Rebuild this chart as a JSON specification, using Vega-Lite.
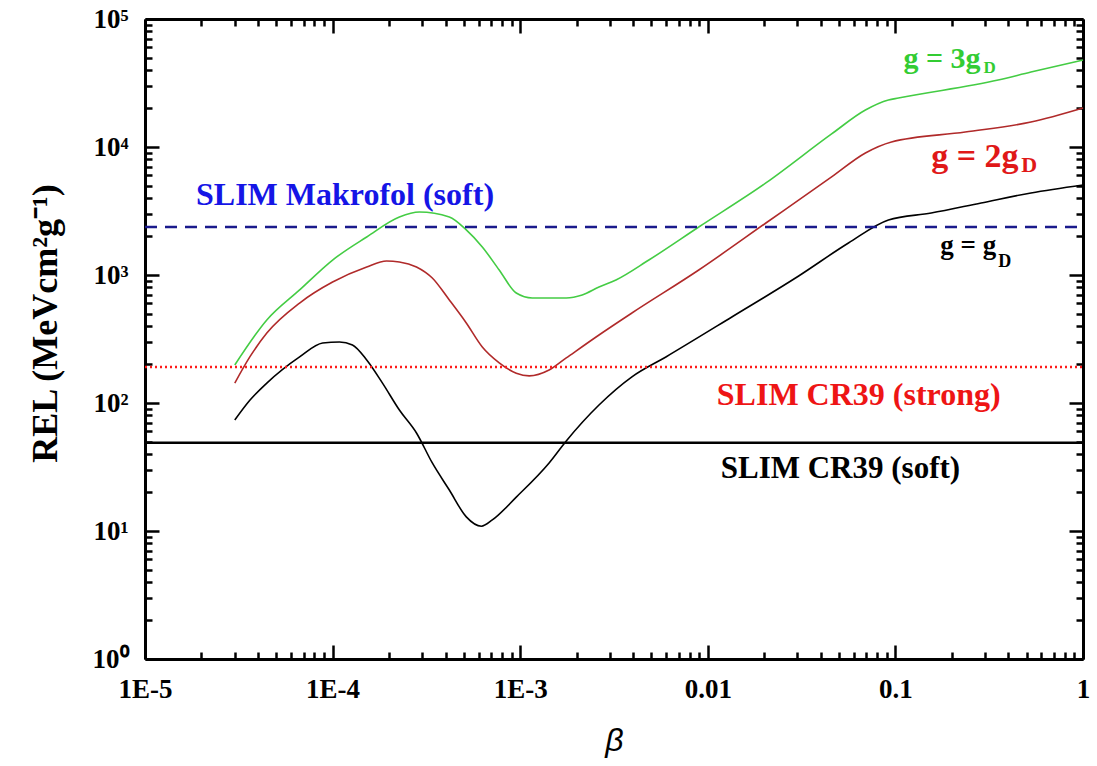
{
  "$schema": "https://vega.github.io/schema/vega-lite/v6.json",
  "width": 938,
  "height": 640,
  "autosize": "none",
  "padding": {"left": 145, "top": 19, "right": 14, "bottom": 107},
  "background": "white",
  "config": {"view": {"stroke": null}},
  "datasets": {
    "curves": [
      {"series": "3gD", "beta": 3.01e-5, "rel": 198},
      {"series": "3gD", "beta": 4.46e-5, "rel": 445},
      {"series": "3gD", "beta": 6.67e-5, "rel": 764},
      {"series": "3gD", "beta": 1.0e-4, "rel": 1309},
      {"series": "3gD", "beta": 1.52e-4, "rel": 1982},
      {"series": "3gD", "beta": 2.27e-4, "rel": 2838},
      {"series": "3gD", "beta": 2.90e-4, "rel": 3105},
      {"series": "3gD", "beta": 4.19e-4, "rel": 2838},
      {"series": "3gD", "beta": 5.16e-4, "rel": 2249},
      {"series": "3gD", "beta": 6.28e-4, "rel": 1656},
      {"series": "3gD", "beta": 7.73e-4, "rel": 1094},
      {"series": "3gD", "beta": 9.53e-4, "rel": 723},
      {"series": "3gD", "beta": 1.16e-3, "rel": 661},
      {"series": "3gD", "beta": 1.76e-3, "rel": 661},
      {"series": "3gD", "beta": 2.14e-3, "rel": 698},
      {"series": "3gD", "beta": 2.63e-3, "rel": 805},
      {"series": "3gD", "beta": 3.24e-3, "rel": 914},
      {"series": "3gD", "beta": 4.85e-3, "rel": 1309},
      {"series": "3gD", "beta": 8.95e-3, "rel": 2371},
      {"series": "3gD", "beta": 0.0204, "rel": 5236},
      {"series": "3gD", "beta": 0.0457, "rel": 12650},
      {"series": "3gD", "beta": 0.0692, "rel": 19450},
      {"series": "3gD", "beta": 0.0918, "rel": 23280},
      {"series": "3gD", "beta": 0.1038, "rel": 24150},
      {"series": "3gD", "beta": 0.353, "rel": 33340},
      {"series": "3gD", "beta": 0.528, "rel": 38550},
      {"series": "3gD", "beta": 1.0, "rel": 47860},
      {"series": "2gD", "beta": 3.01e-5, "rel": 143},
      {"series": "2gD", "beta": 3.62e-5, "rel": 229},
      {"series": "2gD", "beta": 4.46e-5, "rel": 352},
      {"series": "2gD", "beta": 6.67e-5, "rel": 604},
      {"series": "2gD", "beta": 1.0e-4, "rel": 881},
      {"series": "2gD", "beta": 1.52e-4, "rel": 1156},
      {"series": "2gD", "beta": 1.94e-4, "rel": 1285},
      {"series": "2gD", "beta": 2.27e-4, "rel": 1265},
      {"series": "2gD", "beta": 2.80e-4, "rel": 1156},
      {"series": "2gD", "beta": 3.40e-4, "rel": 948},
      {"series": "2gD", "beta": 4.19e-4, "rel": 638},
      {"series": "2gD", "beta": 5.16e-4, "rel": 422},
      {"series": "2gD", "beta": 6.28e-4, "rel": 274},
      {"series": "2gD", "beta": 7.73e-4, "rel": 206},
      {"series": "2gD", "beta": 9.53e-4, "rel": 171},
      {"series": "2gD", "beta": 1.117e-3, "rel": 163},
      {"series": "2gD", "beta": 1.426e-3, "rel": 181},
      {"series": "2gD", "beta": 1.76e-3, "rel": 225},
      {"series": "2gD", "beta": 2.63e-3, "rel": 340},
      {"series": "2gD", "beta": 3.94e-3, "rel": 505},
      {"series": "2gD", "beta": 8.95e-3, "rel": 1094},
      {"series": "2gD", "beta": 0.0204, "rel": 2547},
      {"series": "2gD", "beta": 0.0457, "rel": 5834},
      {"series": "2gD", "beta": 0.0692, "rel": 8974},
      {"series": "2gD", "beta": 0.0953, "rel": 10940},
      {"series": "2gD", "beta": 0.2355, "rel": 13090},
      {"series": "2gD", "beta": 0.528, "rel": 15670},
      {"series": "2gD", "beta": 1.0, "rel": 20180},
      {"series": "gD", "beta": 3.01e-5, "rel": 73.6},
      {"series": "gD", "beta": 3.62e-5, "rel": 105},
      {"series": "gD", "beta": 4.46e-5, "rel": 143},
      {"series": "gD", "beta": 6.67e-5, "rel": 229},
      {"series": "gD", "beta": 8.85e-5, "rel": 294},
      {"series": "gD", "beta": 1.089e-4, "rel": 300},
      {"series": "gD", "beta": 1.276e-4, "rel": 284},
      {"series": "gD", "beta": 1.52e-4, "rel": 217},
      {"series": "gD", "beta": 1.845e-4, "rel": 143},
      {"series": "gD", "beta": 2.27e-4, "rel": 88.1},
      {"series": "gD", "beta": 2.80e-4, "rel": 58.3},
      {"series": "gD", "beta": 3.40e-4, "rel": 34.0},
      {"series": "gD", "beta": 4.19e-4, "rel": 20.9},
      {"series": "gD", "beta": 5.16e-4, "rel": 12.9},
      {"series": "gD", "beta": 6.21e-4, "rel": 10.9},
      {"series": "gD", "beta": 7.10e-4, "rel": 12.2},
      {"series": "gD", "beta": 9.53e-4, "rel": 18.4},
      {"series": "gD", "beta": 1.426e-3, "rel": 34.0},
      {"series": "gD", "beta": 1.76e-3, "rel": 50.5},
      {"series": "gD", "beta": 2.63e-3, "rel": 96.4},
      {"series": "gD", "beta": 3.94e-3, "rel": 160},
      {"series": "gD", "beta": 5.98e-3, "rel": 229},
      {"series": "gD", "beta": 0.01343, "rel": 470},
      {"series": "gD", "beta": 0.0305, "rel": 982},
      {"series": "gD", "beta": 0.0562, "rel": 1778},
      {"series": "gD", "beta": 0.0918, "rel": 2692},
      {"series": "gD", "beta": 0.1552, "rel": 3048},
      {"series": "gD", "beta": 0.2864, "rel": 3656},
      {"series": "gD", "beta": 0.528, "rel": 4375},
      {"series": "gD", "beta": 1.0, "rel": 5047}
    ],
    "limits": [
      {"name": "SLIM Makrofol (soft)", "rel": 2370, "from": 0.00001, "to": 1},
      {"name": "SLIM CR39 (strong)", "rel": 191, "from": 0.00001, "to": 1},
      {"name": "SLIM CR39 (soft)", "rel": 49, "from": 0.00001, "to": 1}
    ],
    "labels": [
      {"id": "mak", "text": "SLIM Makrofol (soft)", "beta": 1.87e-5, "rel": 3520},
      {"id": "cr39s", "text": "SLIM CR39 (strong)", "beta": 0.01117, "rel": 96.4},
      {"id": "cr39w", "text": "SLIM CR39 (soft)", "beta": 0.01172, "rel": 25.9},
      {"id": "g3", "text": "g = 3g", "beta": 0.1104, "rel": 41400},
      {"id": "g3s", "text": "D", "beta": 0.295, "rel": 37900},
      {"id": "g2", "text": "g = 2g", "beta": 0.1552, "rel": 6980},
      {"id": "g2s", "text": "D", "beta": 0.468, "rel": 6380},
      {"id": "g1", "text": "g = g", "beta": 0.1734, "rel": 1459},
      {"id": "g1s", "text": "D", "beta": 0.353, "rel": 1155}
    ]
  },
  "resolve": {"axis": {"x": "independent", "y": "independent"}},
  "layer": [
    {
      "data": {"name": "curves"},
      "mark": {"type": "line", "strokeWidth": 1.6, "interpolate": "monotone"},
      "encoding": {
        "x": {
          "field": "beta", "type": "quantitative",
          "scale": {"type": "log", "domain": [0.00001, 1], "nice": false},
          "axis": {
            "orient": "bottom",
            "values": [0.00001, 0.0001, 0.001, 0.01, 0.1, 1],
            "labelExpr": "['1E-5','1E-4','1E-3','0.01','0.1','1'][round(log(datum.value)/LN10) + 5]",
            "tickSize": -14, "tickWidth": 2.5, "tickColor": "black",
            "domainWidth": 3, "domainColor": "black",
            "grid": false,
            "labelFont": "Liberation Serif", "labelFontWeight": "bold", "labelFontSize": 27, "labelColor": "black",
            "labelPadding": 31, "labelOverlap": false, "labelFlush": false, "labelBound": false,
            "title": "β", "titleFont": "Liberation Sans", "titleFontStyle": "italic", "titleFontWeight": "normal",
            "titleFontSize": 32, "titleColor": "black", "titleX": 469, "titleY": 81, "titleBaseline": "middle", "titleAlign": "center"
          }
        },
        "y": {
          "field": "rel", "type": "quantitative",
          "scale": {"type": "log", "domain": [1, 100000], "nice": false},
          "axis": {
            "orient": "left",
            "values": [1, 10, 100, 1000, 10000, 100000],
            "labelExpr": "['10⁰','10¹','10²','10³','10⁴','10⁵'][round(log(datum.value)/LN10)]",
            "tickSize": -14, "tickWidth": 2.5, "tickColor": "black",
            "domainWidth": 3, "domainColor": "black",
            "grid": false,
            "labelFont": "Liberation Serif", "labelFontWeight": "bold", "labelFontSize": 27, "labelColor": "black",
            "labelPadding": 31, "labelOverlap": false, "labelFlush": false, "labelBound": false,
            "title": "REL (MeVcm²g⁻¹)", "titleFont": "Liberation Serif", "titleFontWeight": "bold",
            "titleFontSize": 36, "titleColor": "black", "titleX": -100, "titleY": 304, "titleAngle": -90,
            "titleBaseline": "middle", "titleAlign": "center"
          }
        },
        "color": {
          "field": "series", "type": "nominal",
          "scale": {"domain": ["gD", "2gD", "3gD"], "range": ["#000000", "#b02a2a", "#44cc44"]},
          "legend": null
        }
      }
    },
    {
      "data": {"name": "limits"},
      "transform": [{"filter": "datum.name == 'SLIM Makrofol (soft)'"}],
      "mark": {"type": "rule", "color": "#1a1a8c", "strokeWidth": 2.5, "strokeDash": [12, 8]},
      "encoding": {
        "x": {"field": "from", "type": "quantitative", "axis": {
            "orient": "top", "values": [0.00001, 0.0001, 0.001, 0.01, 0.1, 1],
            "labels": false, "title": null, "grid": false,
            "tickSize": -14, "tickWidth": 2.5, "tickColor": "black",
            "domainWidth": 3, "domainColor": "black"
          }},
        "x2": {"field": "to"},
        "y": {"field": "rel", "type": "quantitative", "axis": {
            "orient": "right", "values": [1, 10, 100, 1000, 10000, 100000],
            "labels": false, "title": null, "grid": false,
            "tickSize": -14, "tickWidth": 2.5, "tickColor": "black",
            "domainWidth": 3, "domainColor": "black"
          }}
      }
    },
    {
      "data": {"name": "limits"},
      "transform": [{"filter": "datum.name == 'SLIM CR39 (strong)'"}],
      "mark": {"type": "rule", "color": "#ff1a1a", "strokeWidth": 2.5, "strokeDash": [2, 3]},
      "encoding": {
        "x": {"field": "from", "type": "quantitative", "axis": {
            "orient": "top",
            "values": [0.00002,0.00003,0.00004,0.00005,0.00006,0.00007,0.00008,0.00009,0.0002,0.0003,0.0004,0.0005,0.0006,0.0007,0.0008,0.0009,0.002,0.003,0.004,0.005,0.006,0.007,0.008,0.009,0.02,0.03,0.04,0.05,0.06,0.07,0.08,0.09,0.2,0.3,0.4,0.5,0.6,0.7,0.8,0.9],
            "labels": false, "title": null, "grid": false, "domain": false,
            "tickSize": -7, "tickWidth": 2.5, "tickColor": "black"
          }},
        "x2": {"field": "to"},
        "y": {"field": "rel", "type": "quantitative", "axis": {
            "orient": "right",
            "values": [2,3,4,5,6,7,8,9,20,30,40,50,60,70,80,90,200,300,400,500,600,700,800,900,2000,3000,4000,5000,6000,7000,8000,9000,20000,30000,40000,50000,60000,70000,80000,90000],
            "labels": false, "title": null, "grid": false, "domain": false,
            "tickSize": -7, "tickWidth": 2.5, "tickColor": "black"
          }}
      }
    },
    {
      "data": {"name": "limits"},
      "transform": [{"filter": "datum.name == 'SLIM CR39 (soft)'"}],
      "mark": {"type": "rule", "color": "#000000", "strokeWidth": 2.5},
      "encoding": {
        "x": {"field": "from", "type": "quantitative", "axis": {
            "orient": "bottom",
            "values": [0.00002,0.00003,0.00004,0.00005,0.00006,0.00007,0.00008,0.00009,0.0002,0.0003,0.0004,0.0005,0.0006,0.0007,0.0008,0.0009,0.002,0.003,0.004,0.005,0.006,0.007,0.008,0.009,0.02,0.03,0.04,0.05,0.06,0.07,0.08,0.09,0.2,0.3,0.4,0.5,0.6,0.7,0.8,0.9],
            "labels": false, "title": null, "grid": false, "domain": false,
            "tickSize": -7, "tickWidth": 2.5, "tickColor": "black"
          }},
        "x2": {"field": "to"},
        "y": {"field": "rel", "type": "quantitative", "axis": {
            "orient": "left",
            "values": [2,3,4,5,6,7,8,9,20,30,40,50,60,70,80,90,200,300,400,500,600,700,800,900,2000,3000,4000,5000,6000,7000,8000,9000,20000,30000,40000,50000,60000,70000,80000,90000],
            "labels": false, "title": null, "grid": false, "domain": false,
            "tickSize": -7, "tickWidth": 2.5, "tickColor": "black"
          }}
      }
    },
    {
      "data": {"name": "labels"},
      "transform": [{"filter": "datum.id == 'mak'"}],
      "mark": {"type": "text", "align": "left", "baseline": "alphabetic", "font": "Liberation Serif", "fontWeight": "bold", "fontSize": 32, "color": "#1515e6"},
      "encoding": {
        "x": {"field": "beta", "type": "quantitative", "axis": null},
        "y": {"field": "rel", "type": "quantitative", "axis": null},
        "text": {"field": "text"}
      }
    },
    {
      "data": {"name": "labels"},
      "transform": [{"filter": "datum.id == 'cr39s'"}],
      "mark": {"type": "text", "align": "left", "baseline": "alphabetic", "font": "Liberation Serif", "fontWeight": "bold", "fontSize": 32, "color": "#ee1515"},
      "encoding": {
        "x": {"field": "beta", "type": "quantitative", "axis": null},
        "y": {"field": "rel", "type": "quantitative", "axis": null},
        "text": {"field": "text"}
      }
    },
    {
      "data": {"name": "labels"},
      "transform": [{"filter": "datum.id == 'cr39w'"}],
      "mark": {"type": "text", "align": "left", "baseline": "alphabetic", "font": "Liberation Serif", "fontWeight": "bold", "fontSize": 31, "color": "#000000"},
      "encoding": {
        "x": {"field": "beta", "type": "quantitative", "axis": null},
        "y": {"field": "rel", "type": "quantitative", "axis": null},
        "text": {"field": "text"}
      }
    },
    {
      "data": {"name": "labels"},
      "transform": [{"filter": "datum.id == 'g3'"}],
      "mark": {"type": "text", "align": "left", "baseline": "alphabetic", "font": "Liberation Serif", "fontWeight": "bold", "fontSize": 30, "color": "#33cc33"},
      "encoding": {
        "x": {"field": "beta", "type": "quantitative", "axis": null},
        "y": {"field": "rel", "type": "quantitative", "axis": null},
        "text": {"field": "text"}
      }
    },
    {
      "data": {"name": "labels"},
      "transform": [{"filter": "datum.id == 'g3s'"}],
      "mark": {"type": "text", "align": "left", "baseline": "alphabetic", "font": "Liberation Serif", "fontWeight": "bold", "fontSize": 17, "color": "#33cc33"},
      "encoding": {
        "x": {"field": "beta", "type": "quantitative", "axis": null},
        "y": {"field": "rel", "type": "quantitative", "axis": null},
        "text": {"field": "text"}
      }
    },
    {
      "data": {"name": "labels"},
      "transform": [{"filter": "datum.id == 'g2'"}],
      "mark": {"type": "text", "align": "left", "baseline": "alphabetic", "font": "Liberation Serif", "fontWeight": "bold", "fontSize": 34, "color": "#e01818"},
      "encoding": {
        "x": {"field": "beta", "type": "quantitative", "axis": null},
        "y": {"field": "rel", "type": "quantitative", "axis": null},
        "text": {"field": "text"}
      }
    },
    {
      "data": {"name": "labels"},
      "transform": [{"filter": "datum.id == 'g2s'"}],
      "mark": {"type": "text", "align": "left", "baseline": "alphabetic", "font": "Liberation Serif", "fontWeight": "bold", "fontSize": 22, "color": "#e01818"},
      "encoding": {
        "x": {"field": "beta", "type": "quantitative", "axis": null},
        "y": {"field": "rel", "type": "quantitative", "axis": null},
        "text": {"field": "text"}
      }
    },
    {
      "data": {"name": "labels"},
      "transform": [{"filter": "datum.id == 'g1'"}],
      "mark": {"type": "text", "align": "left", "baseline": "alphabetic", "font": "Liberation Serif", "fontWeight": "bold", "fontSize": 27, "color": "#000000"},
      "encoding": {
        "x": {"field": "beta", "type": "quantitative", "axis": null},
        "y": {"field": "rel", "type": "quantitative", "axis": null},
        "text": {"field": "text"}
      }
    },
    {
      "data": {"name": "labels"},
      "transform": [{"filter": "datum.id == 'g1s'"}],
      "mark": {"type": "text", "align": "left", "baseline": "alphabetic", "font": "Liberation Serif", "fontWeight": "bold", "fontSize": 18, "color": "#000000"},
      "encoding": {
        "x": {"field": "beta", "type": "quantitative", "axis": null},
        "y": {"field": "rel", "type": "quantitative", "axis": null},
        "text": {"field": "text"}
      }
    }
  ]
}
